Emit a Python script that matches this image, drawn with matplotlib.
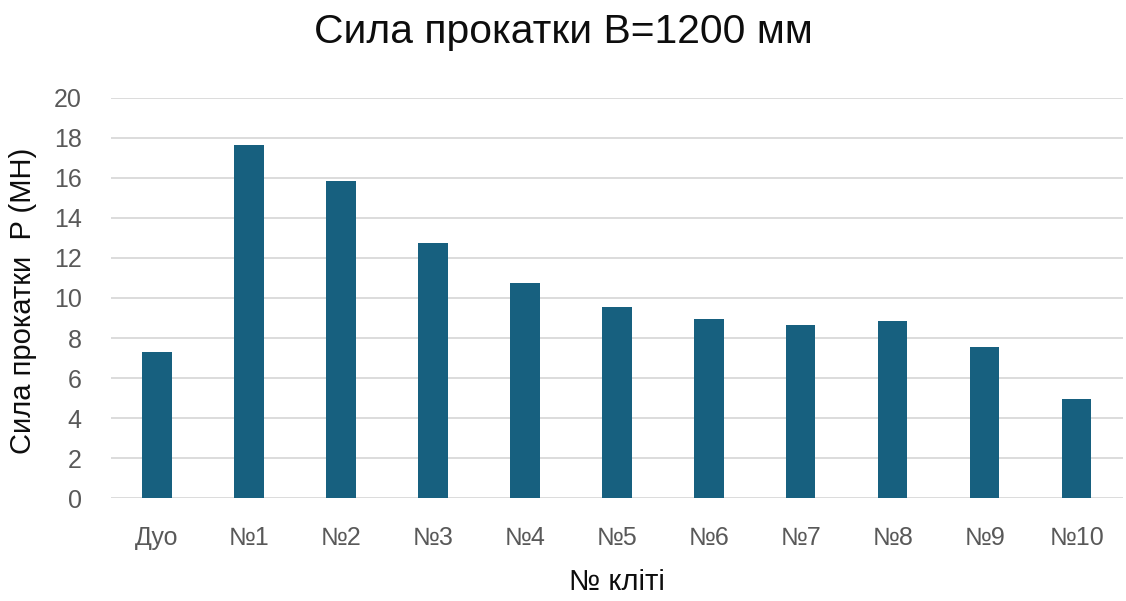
import matplotlib
matplotlib.use("Agg")
import matplotlib.pyplot as plt

# Rolling force per stand, width B = 1200 mm
stands = ["Дуо", "№1", "№2", "№3", "№4", "№5", "№6", "№7", "№8", "№9", "№10"]
force_mn = [7.32, 17.62, 15.83, 12.73, 10.73, 9.54, 8.94, 8.64, 8.84, 7.54, 4.94]
y_ticks = [0, 2, 4, 6, 8, 10, 12, 14, 16, 18, 20]

plt.rcParams["font.family"] = ["Liberation Sans", "DejaVu Sans"]

bar_color = "#17607f"
tick_color = "#595959"
grid_color = "#d9d9d9"
text_color = "#0d0d0d"

fig = plt.figure(figsize=(11.26, 6.01), dpi=100)
ax = fig.add_axes([0.0986, 0.171, 0.8984, 0.6664])

x = range(len(stands))
ax.bar(x, force_mn, width=0.32, color=bar_color, zorder=3)

ax.set_xlim(-0.5, len(stands) - 0.5)
ax.set_ylim(0, 20)
ax.set_yticks(y_ticks)
ax.set_xticks(list(x))
ax.set_xticklabels(stands)

ax.grid(axis="y", color=grid_color, linewidth=1.3, zorder=0)
for s in ax.spines.values():
    s.set_visible(False)
ax.tick_params(axis="both", length=0, labelsize=18, labelcolor=tick_color)
ax.tick_params(axis="x", pad=20)
ax.tick_params(axis="y", pad=21)

ax.set_xlabel("№ кліті", fontsize=21, color=text_color, labelpad=13)
fig.text(0.0204, 0.499, "Сила прокатки  P (МН)", rotation=90, ha="center",
         va="center", fontsize=21, color=text_color)

fig.text(0.5, 0.947, "Сила прокатки B=1200 мм", ha="center", va="center",
         fontsize=29.3, color=text_color)

fig.savefig("out.png", dpi=100, facecolor="white")
